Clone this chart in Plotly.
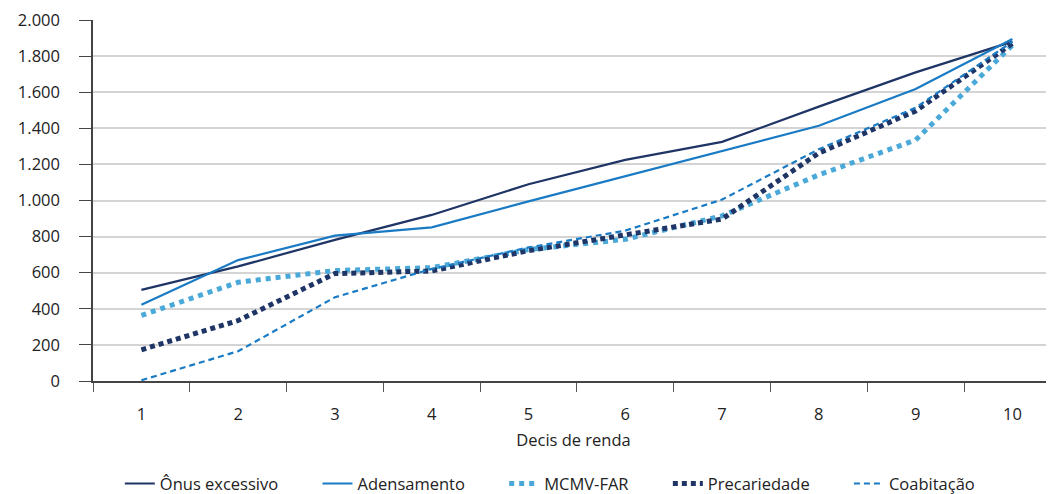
import plotly.graph_objects as go

decis = ["1", "2", "3", "4", "5", "6", "7", "8", "9", "10"]
onus_excessivo = [505, 635, 782, 920, 1090, 1225, 1325, 1520, 1710, 1880]
adensamento = [422, 670, 805, 851, 995, 1135, 1278, 1414, 1618, 1895]
mcmv_far = [363, 547, 612, 628, 728, 785, 915, 1142, 1335, 1860]
precariedade = [173, 335, 595, 610, 722, 808, 897, 1263, 1496, 1870]
coabitacao = [4, 165, 464, 621, 740, 833, 1005, 1284, 1514, 1880]

y_ticks = [0, 200, 400, 600, 800, 1000, 1200, 1400, 1600, 1800, 2000]
y_tick_labels = ["0", "200", "400", "600", "800", "1.000", "1.200", "1.400", "1.600", "1.800", "2.000"]

NAVY = "#1f3566"
BLUE = "#1a7bc4"
LIGHT = "#4aa9d8"

PAD = "\u00a0" * 8
series = [
    ("Ônus excessivo", onus_excessivo, NAVY, 2.2, "solid"),
    ("Adensamento", adensamento, BLUE, 2.2, "solid"),
    ("MCMV-FAR", mcmv_far, LIGHT, 5, "5px,5px"),
    ("Precariedade", precariedade, NAVY, 5, "5px,4px"),
    ("Coabitação", coabitacao, BLUE, 2.2, "6px,4px"),
]

fig = go.Figure()
for i, (name, vals, color, w, dash) in enumerate(series):
    fig.add_trace(go.Scatter(
        x=decis, y=vals, name=name + (PAD if i < len(series) - 1 else ""),
        mode="lines",
        line=dict(color=color, width=w, dash=dash),
    ))

FONT = "Open Sans"
FS = 16.5
# The page body has an 8px margin, so the figure is sized/positioned to compensate.
fig.update_layout(
    width=1046, height=486,
    margin=dict(l=85, r=0, t=12, b=113),
    paper_bgcolor="white", plot_bgcolor="white",
    font=dict(family=FONT, size=FS, color="#222222"),
    showlegend=True,
    legend=dict(
        orientation="h", xref="container", yref="container",
        x=0.518, xanchor="center", y=0.021, yanchor="middle",
        font=dict(family=FONT, size=FS, color="#222222"),
        tracegroupgap=0,
    ),
    xaxis=dict(
        type="category", range=[-0.5, 9.43], automargin=False,
        tickson="boundaries", ticks="outside", ticklen=9, tickwidth=1.2,
        tickcolor="#555555", showline=True, linecolor="#444444", linewidth=1.5,
        showgrid=False, zeroline=False,
        ticklabelstandoff=17,
        title=dict(text="Decis de renda", standoff=11, font=dict(size=FS)),
    ),
    yaxis=dict(
        range=[0, 2000], tickvals=y_ticks, ticktext=y_tick_labels, automargin=False,
        ticks="outside", ticklen=12, tickwidth=1.2, tickcolor="#444444",
        showline=True, linecolor="#444444", linewidth=1.5,
        showgrid=True, gridcolor="#d4d4d4", gridwidth=1.5,
        zeroline=False, ticklabelstandoff=16, ticklabeloverflow="allow",
    ),
)

fig.write_html("out.html")
